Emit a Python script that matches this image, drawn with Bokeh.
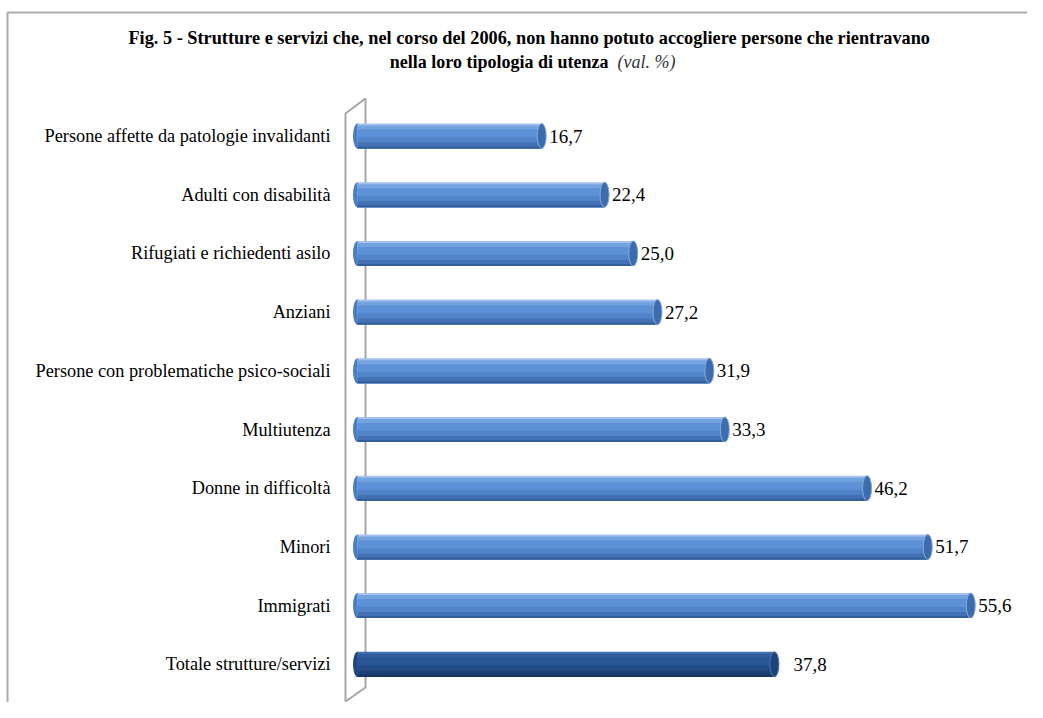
from bokeh.plotting import figure
from bokeh.models import Range1d
from bokeh.core.properties import value
from bokeh.embed import file_html
from bokeh.resources import INLINE

# ---------------- data ----------------
categories = [
    "Persone affette da patologie invalidanti",
    "Adulti con disabilità",
    "Rifugiati e richiedenti asilo",
    "Anziani",
    "Persone con problematiche psico-sociali",
    "Multiutenza",
    "Donne in difficoltà",
    "Minori",
    "Immigrati",
    "Totale strutture/servizi",
]
values = [16.7, 22.4, 25.0, 27.2, 31.9, 33.3, 46.2, 51.7, 55.6, 37.8]
is_total = [False, False, False, False, False, False, False, False, False, True]

title_line1 = "Fig. 5 - Strutture  e servizi che, nel corso del 2006, non hanno potuto accogliere persone che rientravano"
title_line2_bold = "nella loro tipologia di utenza"
title_line2_italic = "(val. %)"

# ---------------- layout ----------------
W, H = 1027, 702
X0_PX = 357.0      # canvas px of value 0
X_SCALE = 11.03    # px per unit
Y0_PX = 135.5      # canvas px of first category centre
Y_STEP = 58.7      # px per category


def dx(px):
    return (px - X0_PX) / X_SCALE


def dy(py):
    return (py - Y0_PX) / Y_STEP


SERIF = value("Liberation Serif")

p = figure(
    width=W, height=H,
    x_range=Range1d(dx(0), dx(W)),
    y_range=Range1d(dy(H), dy(0)),
    output_backend="svg", toolbar_location=None,
    x_axis_type=None, y_axis_type=None,
    min_border=0, outline_line_color=None,
    background_fill_color="white", border_fill_color="white",
)

# outer chart border (top and left visible)
p.line([dx(7), dx(7), dx(W + 20)], [dy(H + 20), dy(12), dy(12)],
       line_color="#ababab", line_width=2)

# 3-D wall on the left
fx, bx = dx(345), dx(365)
p.line([fx, fx, bx, bx, fx],
       [dy(701), dy(113), dy(98), dy(687), dy(701)],
       line_color="#a6a6a6", line_width=2)

idx = list(range(len(categories)))

# bar body drawn as overlapping shaded layers (cylinder look)
bands = [  # (top px within a 25px bar, light colour, dark colour)
    (0, "#a3c1ea", "#3f6fae"),
    (2, "#74a3e2", "#2f5d9c"),
    (6, "#5d91d7", "#285594"),
    (14, "#5083c9", "#224b86"),
    (19, "#4272b5", "#1c4176"),
    (23, "#325e9a", "#15335f"),
]
BAR_PX = 25.0

# left rounded end
p.ellipse(x=[0] * len(idx), y=idx, width=9, height=BAR_PX,
          width_units="screen", height_units="screen",
          fill_color=["#1f477f" if t else "#4a7dc2" for t in is_total],
          line_color=None)

for top, c_light, c_dark in bands:
    bot = BAR_PX
    off = ((top + bot) / 2.0 - BAR_PX / 2.0) / Y_STEP
    h = (bot - top) / Y_STEP
    p.hbar(y=[k + off for k in idx], left=0, right=values, height=h,
           fill_color=[c_dark if t else c_light for t in is_total],
           line_color=None)

# right end cap
p.ellipse(x=values, y=idx, width=9, height=BAR_PX,
          width_units="screen", height_units="screen",
          fill_color=["#1d4478" if t else "#3d6cad" for t in is_total],
          line_color=["#4a75ad" if t else "#86aadc" for t in is_total],
          line_width=1)

# value labels
labels = [f"{v:.1f}".replace(".", ",") for v in values]
for k, v, lab, t in zip(idx, values, labels, is_total):
    p.text(x=[v], y=[k], text=[lab], x_offset=19 if t else 7.5,
           text_align="left", text_baseline="middle",
           text_font=SERIF, text_font_size="19px", text_color="black")

# category labels
p.text(x=[dx(330)] * len(idx), y=idx, text=categories,
       text_align="right", text_baseline="middle",
       text_font=SERIF, text_font_size="18.3px", text_color="black")

# title
p.text(x=[dx(531)], y=[dy(37)], text=[title_line1],
       text_align="center", text_baseline="middle",
       text_font=SERIF, text_font_style="bold", text_font_size="18.3px",
       text_color="black")
p.text(x=[dx(608)], y=[dy(61)], text=[title_line2_bold],
       text_align="right", text_baseline="middle",
       text_font=SERIF, text_font_style="bold", text_font_size="18px",
       text_color="black")
p.text(x=[dx(617)], y=[dy(61)], text=[title_line2_italic],
       text_align="left", text_baseline="middle",
       text_font=SERIF, text_font_style="italic", text_font_size="18px",
       text_color="#333333")

open("out.html", "w").write(file_html(p, INLINE))
